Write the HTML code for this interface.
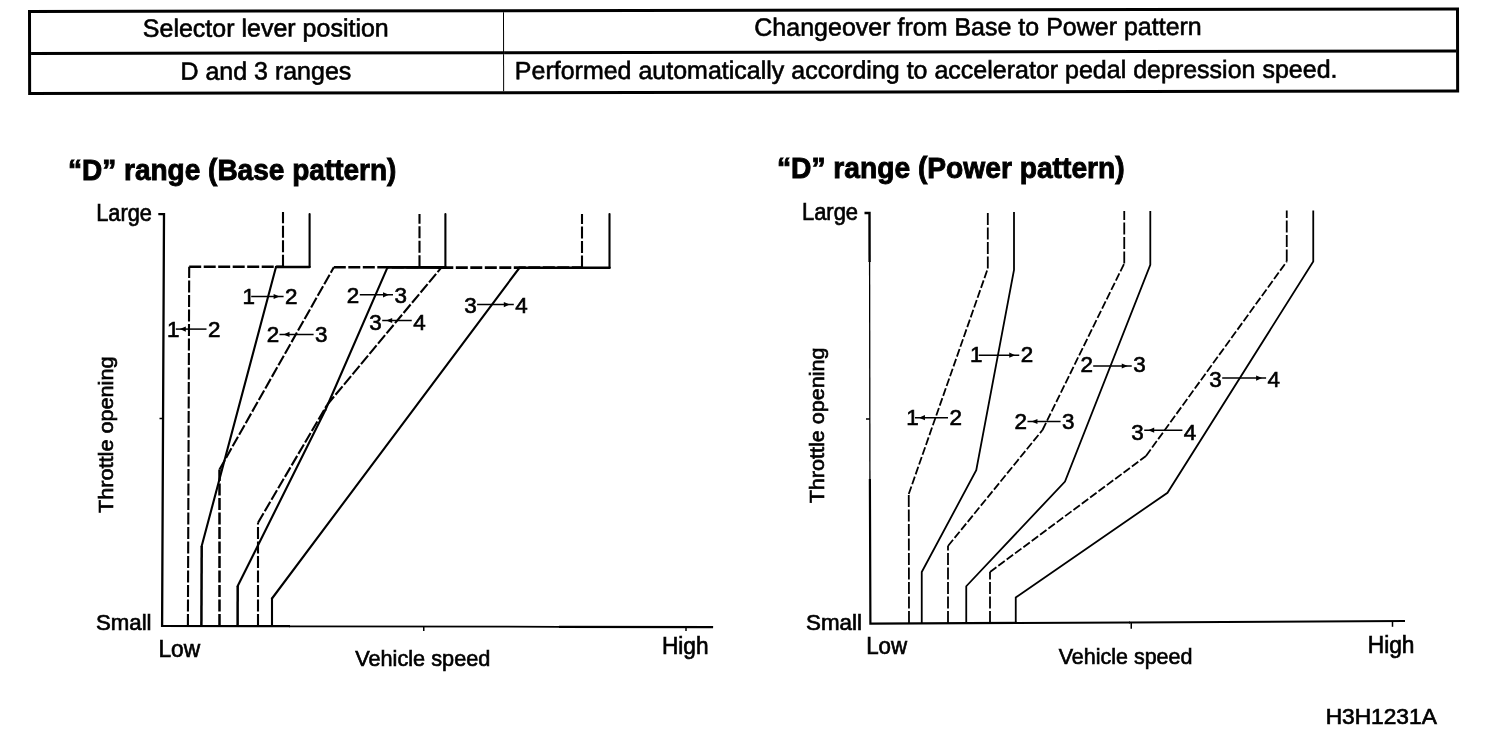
<!DOCTYPE html>
<html lang="en">
<head>
<meta charset="utf-8">
<title>Shift pattern: Base and Power</title>
<style>
html,body{margin:0;padding:0;background:#fff;}
body{width:1504px;height:752px;position:relative;overflow:hidden;font-family:"Liberation Sans", Arial, Helvetica, sans-serif;color:#000;}
#page{position:absolute;left:0;top:0;width:1504px;height:752px;background:#fff;}
table#sel{position:absolute;left:28px;top:10px;width:1431px;box-sizing:border-box;border-collapse:separate;border-spacing:0;table-layout:fixed;
  border:3px solid #000;border-right-width:3.5px;border-bottom-width:3.5px;transform:rotate(-0.1deg);transform-origin:0 0;}
table#sel td{padding:0;font-size:25px;text-align:center;white-space:nowrap;vertical-align:top;-webkit-text-stroke:0.6px #000;}
table#sel tr.r1 td{height:39px;line-height:31px;border-bottom:3px solid #000;}
table#sel tr.r2 td{height:37px;line-height:33px;}
table#sel td.c1{width:469.5px;border-right:1.8px solid #000;padding-right:2.5px;box-sizing:content-box;}
table#sel td.c2{padding-right:4px;}
table#sel td.left{text-align:left;padding-left:10.7px;padding-right:0;}
h2{position:absolute;margin:0;font-size:29px;font-weight:bold;line-height:1;white-space:nowrap;transform-origin:0 0;-webkit-text-stroke:0.9px #000;}
svg#charts{position:absolute;left:0;top:0;}
svg#charts text{font-family:"Liberation Sans", Arial, Helvetica, sans-serif;fill:#000;}
</style>
</head>
<body>
<div id="page">
<table id="sel">
<tr class="r1"><td class="c1"><span id="t11">Selector lever position</span></td><td class="c2"><span id="t12">Changeover from Base to Power pattern</span></td></tr>
<tr class="r2"><td class="c1"><span id="t21">D and 3 ranges</span></td><td class="c2 left"><span id="t22">Performed automatically according to accelerator pedal depression speed.</span></td></tr>
</table>
<h2 id="h1" style="left:68.1px;top:155.9px;transform:scaleX(0.9658);">“D” range (Base pattern)</h2>
<h2 id="h2" style="left:776.6px;top:153.9px;transform:scaleX(0.9718);">“D” range (Power pattern)</h2>
<svg id="charts" width="1504" height="752" viewBox="0 0 1504 752">
<g id="base-chart">
<polyline points="158.30,214.20 164.00,214.20 162.10,625.90 290.00,626.20" fill="none" stroke="#000" stroke-width="2.3"/>
<polyline points="289.00,626.30 560.00,626.80" fill="none" stroke="#000" stroke-width="1.7"/>
<polyline points="559.00,626.90 713.10,627.20" fill="none" stroke="#000" stroke-width="2.3"/>
<polyline points="159.50,418.50 163.00,418.50" fill="none" stroke="#000" stroke-width="1.5"/>
<polyline points="423.75,626.00 423.75,631.00" fill="none" stroke="#000" stroke-width="1.5"/>
<polyline points="686.00,627.00 686.00,631.00" fill="none" stroke="#000" stroke-width="1.5"/>
<line x1="187.90" y1="626.00" x2="189.20" y2="266.80" stroke="#000" stroke-width="2.1" stroke-dasharray="12 2.5"/>
<line x1="189.20" y1="266.80" x2="283.00" y2="266.80" stroke="#000" stroke-width="2.5" stroke-dasharray="12 2.5"/>
<line x1="283.00" y1="266.80" x2="283.00" y2="212.00" stroke="#000" stroke-width="2.1" stroke-dasharray="12 2.5"/>
<line x1="219.50" y1="626.00" x2="219.50" y2="469.50" stroke="#000" stroke-width="2.5" stroke-dasharray="12 2.5"/>
<line x1="219.50" y1="469.50" x2="333.80" y2="267.30" stroke="#000" stroke-width="2.1" stroke-dasharray="11 2.3"/>
<line x1="333.80" y1="267.30" x2="419.50" y2="267.30" stroke="#000" stroke-width="2.5" stroke-dasharray="12 2.5"/>
<line x1="419.50" y1="267.30" x2="419.50" y2="214.00" stroke="#000" stroke-width="2.1" stroke-dasharray="12 2.5"/>
<line x1="258.00" y1="626.00" x2="258.00" y2="522.75" stroke="#000" stroke-width="2.1" stroke-dasharray="12 2.5"/>
<line x1="258.00" y1="522.75" x2="327.00" y2="405.00" stroke="#000" stroke-width="2.1" stroke-dasharray="11 2.3"/>
<line x1="327.00" y1="405.00" x2="441.30" y2="267.60" stroke="#000" stroke-width="2.1" stroke-dasharray="11 2.3"/>
<line x1="441.30" y1="267.60" x2="582.00" y2="267.60" stroke="#000" stroke-width="2.8" stroke-dasharray="12 2.5"/>
<line x1="582.00" y1="267.60" x2="582.00" y2="214.00" stroke="#000" stroke-width="2.1" stroke-dasharray="12 2.5"/>
<polyline points="201.40,626.00 201.70,546.00" fill="none" stroke="#000" stroke-width="2.5"/>
<line x1="201.70" y1="546.00" x2="276.00" y2="267.00" stroke="#000" stroke-width="2.1" stroke-linecap="round"/>
<line x1="276.00" y1="267.00" x2="309.60" y2="267.00" stroke="#000" stroke-width="2.3" stroke-linecap="round"/>
<line x1="309.60" y1="267.00" x2="309.60" y2="214.00" stroke="#000" stroke-width="2.1" stroke-linecap="round"/>
<polyline points="237.60,626.00 237.70,586.00" fill="none" stroke="#000" stroke-width="2.5"/>
<line x1="237.70" y1="586.00" x2="325.40" y2="410.00" stroke="#000" stroke-width="2.1" stroke-linecap="round"/>
<line x1="325.40" y1="410.00" x2="387.50" y2="267.30" stroke="#000" stroke-width="2.1" stroke-linecap="round"/>
<line x1="387.50" y1="267.30" x2="445.40" y2="267.50" stroke="#000" stroke-width="2.8" stroke-linecap="round"/>
<line x1="445.40" y1="267.50" x2="445.40" y2="214.00" stroke="#000" stroke-width="2.1" stroke-linecap="round"/>
<line x1="272.00" y1="626.00" x2="272.00" y2="598.50" stroke="#000" stroke-width="2.1" stroke-linecap="round"/>
<line x1="272.00" y1="598.50" x2="519.50" y2="267.75" stroke="#000" stroke-width="2.1" stroke-linecap="round"/>
<line x1="519.50" y1="267.75" x2="609.50" y2="267.75" stroke="#000" stroke-width="2.5" stroke-linecap="round"/>
<line x1="609.50" y1="267.75" x2="609.50" y2="214.00" stroke="#000" stroke-width="2.1" stroke-linecap="round"/>
<text x="166.98" y="336.70" font-size="22.4" stroke="#000" stroke-width="0.65">1</text>
<text x="207.93" y="336.70" font-size="22.4" stroke="#000" stroke-width="0.65">2</text>
<line x1="175.80" y1="329.10" x2="206.50" y2="329.10" stroke="#000" stroke-width="1.5"/>
<polygon points="179.80,329.10 185.80,326.50 185.80,331.70" fill="#000"/>
<text x="242.38" y="304.20" font-size="22.4" stroke="#000" stroke-width="0.65">1</text>
<text x="285.08" y="304.20" font-size="22.4" stroke="#000" stroke-width="0.65">2</text>
<line x1="251.20" y1="296.50" x2="283.60" y2="296.50" stroke="#000" stroke-width="1.5"/>
<polygon points="279.60,296.50 273.60,293.90 273.60,299.10" fill="#000"/>
<text x="266.78" y="342.10" font-size="22.4" stroke="#000" stroke-width="0.65">2</text>
<text x="315.09" y="342.10" font-size="22.4" stroke="#000" stroke-width="0.65">3</text>
<line x1="279.50" y1="334.40" x2="313.60" y2="334.40" stroke="#000" stroke-width="1.5"/>
<polygon points="283.50,334.40 289.50,331.80 289.50,337.00" fill="#000"/>
<text x="346.78" y="302.90" font-size="22.4" stroke="#000" stroke-width="0.65">2</text>
<text x="394.59" y="302.90" font-size="22.4" stroke="#000" stroke-width="0.65">3</text>
<line x1="359.80" y1="294.80" x2="393.00" y2="294.80" stroke="#000" stroke-width="1.5"/>
<polygon points="389.00,294.80 383.00,292.20 383.00,297.40" fill="#000"/>
<text x="369.34" y="329.90" font-size="22.4" stroke="#000" stroke-width="0.65">3</text>
<text x="413.21" y="329.90" font-size="22.4" stroke="#000" stroke-width="0.65">4</text>
<line x1="382.20" y1="320.50" x2="411.75" y2="320.50" stroke="#000" stroke-width="1.5"/>
<polygon points="386.20,320.50 392.20,317.90 392.20,323.10" fill="#000"/>
<text x="464.19" y="313.20" font-size="22.4" stroke="#000" stroke-width="0.65">3</text>
<text x="515.24" y="313.20" font-size="22.4" stroke="#000" stroke-width="0.65">4</text>
<line x1="477.10" y1="304.60" x2="513.80" y2="304.60" stroke="#000" stroke-width="1.5"/>
<polygon points="509.80,304.60 503.80,302.00 503.80,307.20" fill="#000"/>
<text x="96.26" y="220.50" font-size="23" font-weight="normal" stroke="#000" stroke-width="0.65" textLength="55.58" lengthAdjust="spacingAndGlyphs">Large</text>
<text x="96.00" y="630.30" font-size="21.5" font-weight="normal" stroke="#000" stroke-width="0.65" textLength="55.56" lengthAdjust="spacingAndGlyphs">Small</text>
<text x="158.38" y="656.80" font-size="23" font-weight="normal" stroke="#000" stroke-width="0.65" textLength="41.71" lengthAdjust="spacingAndGlyphs">Low</text>
<text x="661.94" y="653.75" font-size="23" font-weight="normal" stroke="#000" stroke-width="0.65" textLength="46.57" lengthAdjust="spacingAndGlyphs">High</text>
<text x="355.19" y="665.90" font-size="22.5" font-weight="normal" stroke="#000" stroke-width="0.65" textLength="135.17" lengthAdjust="spacingAndGlyphs">Vehicle speed</text>
<text transform="translate(113.30,512.93) rotate(-90)" x="0" y="0" font-size="21" stroke="#000" stroke-width="0.65" textLength="156.39" lengthAdjust="spacingAndGlyphs">Throttle opening</text>
</g>
<g id="power-chart">
<polyline points="864.50,213.00 869.50,213.00 869.60,262.00" fill="none" stroke="#000" stroke-width="2.4"/>
<polyline points="869.60,261.00 869.90,480.00" fill="none" stroke="#000" stroke-width="1.3"/>
<polyline points="869.90,479.00 870.40,623.60 1130.00,622.50" fill="none" stroke="#000" stroke-width="2.2"/>
<polyline points="1129.00,622.50 1405.00,621.10" fill="none" stroke="#000" stroke-width="2.0"/>
<polyline points="866.00,419.00 870.00,419.00" fill="none" stroke="#000" stroke-width="1.5"/>
<polyline points="1131.25,623.00 1131.25,628.75" fill="none" stroke="#000" stroke-width="1.5"/>
<polyline points="1392.50,621.50 1392.50,626.80" fill="none" stroke="#000" stroke-width="1.5"/>
<line x1="909.00" y1="623.00" x2="908.75" y2="494.00" stroke="#000" stroke-width="1.8" stroke-dasharray="12 2.5"/>
<line x1="908.75" y1="494.00" x2="987.80" y2="268.50" stroke="#000" stroke-width="1.8" stroke-dasharray="8 2.4"/>
<line x1="987.80" y1="268.50" x2="987.80" y2="211.00" stroke="#000" stroke-width="1.8" stroke-dasharray="12 2.5"/>
<line x1="948.00" y1="623.00" x2="948.00" y2="546.00" stroke="#000" stroke-width="1.8" stroke-dasharray="12 2.5"/>
<line x1="948.00" y1="546.00" x2="1042.50" y2="430.00" stroke="#000" stroke-width="1.8" stroke-dasharray="8 2.4"/>
<line x1="1042.50" y1="430.00" x2="1124.25" y2="263.50" stroke="#000" stroke-width="1.8" stroke-dasharray="8 2.4"/>
<line x1="1124.25" y1="263.50" x2="1124.25" y2="211.00" stroke="#000" stroke-width="1.8" stroke-dasharray="12 2.5"/>
<line x1="990.00" y1="623.00" x2="990.00" y2="572.00" stroke="#000" stroke-width="1.8" stroke-dasharray="12 2.5"/>
<line x1="990.00" y1="572.00" x2="1146.00" y2="456.00" stroke="#000" stroke-width="1.8" stroke-dasharray="8 2.4"/>
<line x1="1146.00" y1="456.00" x2="1286.75" y2="261.50" stroke="#000" stroke-width="1.8" stroke-dasharray="8 2.4"/>
<line x1="1286.75" y1="261.50" x2="1286.75" y2="210.50" stroke="#000" stroke-width="1.8" stroke-dasharray="12 2.5"/>
<polyline points="921.75,623.00 921.75,572.00 976.25,470.25 1014.00,270.00 1014.00,212.00" fill="none" stroke="#000" stroke-width="1.8"/>
<polyline points="966.25,623.00 966.25,586.25 1065.00,481.50 1150.30,264.75 1150.30,211.00" fill="none" stroke="#000" stroke-width="1.8"/>
<polyline points="1015.75,623.00 1015.75,597.50 1167.50,492.75 1313.25,261.50 1313.25,210.50" fill="none" stroke="#000" stroke-width="1.8"/>
<text x="969.88" y="361.80" font-size="22.4" stroke="#000" stroke-width="0.65">1</text>
<text x="1020.66" y="361.80" font-size="22.4" stroke="#000" stroke-width="0.65">2</text>
<line x1="978.70" y1="355.20" x2="1019.25" y2="355.20" stroke="#000" stroke-width="1.5"/>
<polygon points="1015.25,355.20 1009.25,352.60 1009.25,357.80" fill="#000"/>
<text x="906.13" y="425.30" font-size="22.4" stroke="#000" stroke-width="0.65">1</text>
<text x="949.41" y="425.30" font-size="22.4" stroke="#000" stroke-width="0.65">2</text>
<line x1="914.95" y1="417.70" x2="948.00" y2="417.70" stroke="#000" stroke-width="1.5"/>
<polygon points="918.95,417.70 924.95,415.10 924.95,420.30" fill="#000"/>
<text x="1080.41" y="372.30" font-size="22.4" stroke="#000" stroke-width="0.65">2</text>
<text x="1133.21" y="372.30" font-size="22.4" stroke="#000" stroke-width="0.65">3</text>
<line x1="1093.20" y1="366.00" x2="1131.75" y2="366.00" stroke="#000" stroke-width="1.5"/>
<polygon points="1127.75,366.00 1121.75,363.40 1121.75,368.60" fill="#000"/>
<text x="1014.41" y="428.80" font-size="22.4" stroke="#000" stroke-width="0.65">2</text>
<text x="1061.94" y="428.80" font-size="22.4" stroke="#000" stroke-width="0.65">3</text>
<line x1="1027.45" y1="421.50" x2="1060.60" y2="421.50" stroke="#000" stroke-width="1.5"/>
<polygon points="1031.45,421.50 1037.45,418.90 1037.45,424.10" fill="#000"/>
<text x="1209.34" y="386.90" font-size="22.4" stroke="#000" stroke-width="0.65">3</text>
<text x="1267.49" y="386.90" font-size="22.4" stroke="#000" stroke-width="0.65">4</text>
<line x1="1222.20" y1="378.10" x2="1266.10" y2="378.10" stroke="#000" stroke-width="1.5"/>
<polygon points="1262.10,378.10 1256.10,375.50 1256.10,380.70" fill="#000"/>
<text x="1131.21" y="439.60" font-size="22.4" stroke="#000" stroke-width="0.65">3</text>
<text x="1183.84" y="439.60" font-size="22.4" stroke="#000" stroke-width="0.65">4</text>
<line x1="1144.20" y1="430.20" x2="1182.40" y2="430.20" stroke="#000" stroke-width="1.5"/>
<polygon points="1148.20,430.20 1154.20,427.60 1154.20,432.80" fill="#000"/>
<text x="802.00" y="219.50" font-size="23" font-weight="normal" stroke="#000" stroke-width="0.65" textLength="56.05" lengthAdjust="spacingAndGlyphs">Large</text>
<text x="805.99" y="629.90" font-size="21.5" font-weight="normal" stroke="#000" stroke-width="0.65" textLength="55.87" lengthAdjust="spacingAndGlyphs">Small</text>
<text x="866.21" y="654.00" font-size="23" font-weight="normal" stroke="#000" stroke-width="0.65" textLength="40.98" lengthAdjust="spacingAndGlyphs">Low</text>
<text x="1367.78" y="652.50" font-size="23" font-weight="normal" stroke="#000" stroke-width="0.65" textLength="46.73" lengthAdjust="spacingAndGlyphs">High</text>
<text x="1058.64" y="664.30" font-size="22.5" font-weight="normal" stroke="#000" stroke-width="0.65" textLength="133.80" lengthAdjust="spacingAndGlyphs">Vehicle speed</text>
<text transform="translate(823.90,503.33) rotate(-90)" x="0" y="0" font-size="21" stroke="#000" stroke-width="0.65" textLength="155.78" lengthAdjust="spacingAndGlyphs">Throttle opening</text>
<text x="1325.68" y="723.50" font-size="21.5" font-weight="normal" stroke="#000" stroke-width="0.65" textLength="111.12" lengthAdjust="spacingAndGlyphs">H3H1231A</text>
</g>
</svg>
</div>
</body>
</html>
